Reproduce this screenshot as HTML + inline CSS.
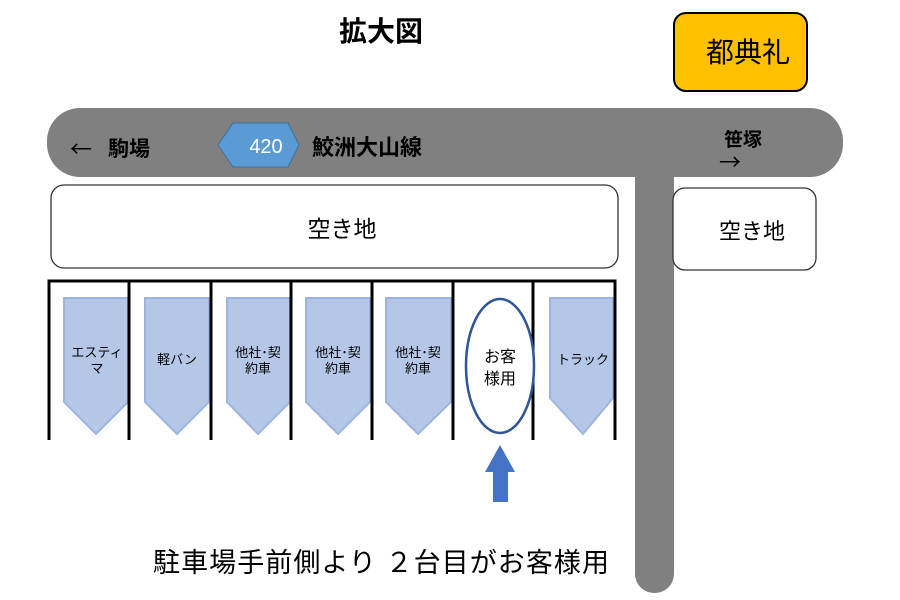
<!DOCTYPE html>
<html><head><meta charset="utf-8"><style>
html,body{margin:0;padding:0;background:#fff;}
svg{display:block;}
text{font-family:"Liberation Sans","Noto Sans CJK JP",sans-serif;}
.cjk{font-family:"Noto Sans CJK JP",sans-serif;}
</style></head><body>
<svg width="900" height="600" viewBox="0 0 900 600" xmlns="http://www.w3.org/2000/svg">
<rect width="900" height="600" fill="#fff"/>
<!-- title -->
<text x="381" y="41" font-size="28" font-weight="bold" text-anchor="middle" fill="#000">拡大図</text>
<!-- 都典礼 -->
<rect x="674" y="13" width="133" height="78" rx="12" fill="#FFC000" stroke="#000" stroke-width="2"/>
<text x="748" y="62" font-size="28" text-anchor="middle" fill="#000">都典礼</text>
<!-- roads -->
<rect x="635" y="140" width="39" height="453" rx="19" fill="#808080"/>
<rect x="47" y="108" width="796" height="69" rx="33" fill="#808080"/>
<!-- road labels -->
<text class="cjk" x="70" y="157" font-size="22" fill="#000">←</text>
<text x="108" y="156" font-size="21" font-weight="bold" fill="#000">駒場</text>
<polygon points="218,145 233,123 288,123 299,145 288,167 233,167" fill="#5B9BD5" stroke="#41719C" stroke-width="1"/>
<text x="266" y="153" font-size="20" text-anchor="middle" fill="#fff">420</text>
<text x="312" y="155" font-size="22" font-weight="bold" fill="#000">鮫洲大山線</text>
<text x="724" y="146" font-size="19" font-weight="bold" fill="#000">笹塚</text>
<text class="cjk" x="719" y="170" font-size="22" fill="#000">→</text>
<!-- empty lots -->
<rect x="51" y="185" width="567" height="83" rx="13" fill="#fff" stroke="#333" stroke-width="1.3"/>
<text x="342" y="237" font-size="23" text-anchor="middle" fill="#000">空き地</text>
<rect x="673" y="188" width="143" height="82" rx="12" fill="#fff" stroke="#333" stroke-width="1.3"/>
<text x="752" y="239" font-size="22" text-anchor="middle" fill="#000">空き地</text>
<!-- chevrons -->
<g fill="#B4C7E7" stroke="#9DB4DE" stroke-width="2">
<polygon points="64,298 128,298 128,402 96,434 64,402"/>
<polygon points="145,298 209,298 209,402 177,434 145,402"/>
<polygon points="227,298 290,298 290,402 258,434 227,402"/>
<polygon points="306,298 370,298 370,402 338,434 306,402"/>
<polygon points="386,298 451,298 451,402 418,434 386,402"/>
<polygon points="550,298 613,298 613,398 583,434 550,398"/>
</g>
<!-- parking lines -->
<g stroke="#000" stroke-width="3" fill="none">
<polyline points="49,440 49,281 615,281 615,440"/>
<line x1="129" y1="281" x2="129" y2="440"/>
<line x1="211" y1="281" x2="211" y2="440"/>
<line x1="291" y1="281" x2="291" y2="440"/>
<line x1="372" y1="281" x2="372" y2="440"/>
<line x1="453" y1="281" x2="453" y2="440"/>
<line x1="533" y1="281" x2="533" y2="440"/>
</g>
<!-- chevron labels -->
<g font-size="13" text-anchor="middle" fill="#000">
<text x="97" y="357">エスティ</text>
<text x="97" y="373">マ</text>
<text x="177" y="364">軽バン</text>
<text x="258" y="357">他社･契</text>
<text x="258" y="373">約車</text>
<text x="338" y="357">他社･契</text>
<text x="338" y="373">約車</text>
<text x="418" y="357">他社･契</text>
<text x="418" y="373">約車</text>
<text x="583" y="364">トラック</text>
</g>
<!-- ellipse -->
<ellipse cx="500" cy="366" rx="34" ry="67" fill="#fff" stroke="#2F5597" stroke-width="2.5"/>
<text x="500" y="362" font-size="16" text-anchor="middle" fill="#000">お客</text>
<text x="500" y="384" font-size="16" text-anchor="middle" fill="#000">様用</text>
<!-- up arrow -->
<polygon points="500,445 515,472 508,472 508,502 493,502 493,472 485,472" fill="#4472C4"/>
<!-- bottom text -->
<text x="153" y="572" font-size="27" textLength="456" lengthAdjust="spacing" fill="#000">駐車場手前側より ２台目がお客様用</text>
</svg>
</body></html>
